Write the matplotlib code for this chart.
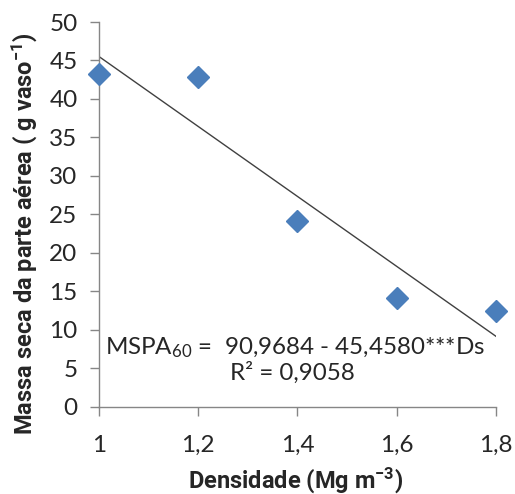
import matplotlib
matplotlib.use("Agg")
import matplotlib.pyplot as plt
import numpy as np

# Data
densidade = [1.0, 1.2, 1.4, 1.6, 1.8]
mspa = [43.2, 42.9, 24.2, 14.1, 12.4]
intercept = 90.9684
slope = -45.4580
x_ticks = [1.0, 1.2, 1.4, 1.6, 1.8]
x_tick_labels = ["1", "1,2", "1,4", "1,6", "1,8"]
y_ticks = [0, 5, 10, 15, 20, 25, 30, 35, 40, 45, 50]

plt.rcParams['font.family'] = ['Lato', 'DejaVu Sans']
plt.rcParams['mathtext.fontset'] = 'custom'
plt.rcParams['mathtext.rm'] = 'Lato'
plt.rcParams['mathtext.bf'] = 'Roboto:bold'
plt.rcParams['mathtext.default'] = 'rm'

fig = plt.figure(figsize=(5.15, 4.94), dpi=100)
ax = fig.add_axes([99/515, 1-406.7/494, (496-99)/515, (406.7-22)/494])

xl = np.array([min(densidade), max(densidade)])
ax.plot(xl, intercept + slope*xl, color='#404040', lw=1.0, zorder=2)
ax.plot(densidade, mspa, linestyle='none', marker='D', markersize=11,
        color='#4a7ebb', markeredgecolor='#4a7ebb', zorder=3, clip_on=False)

ax.set_xlim(1.0, 1.8)
ax.set_ylim(0, 50)
ax.set_xticks(x_ticks)
ax.set_xticklabels(x_tick_labels)
ax.set_yticks(y_ticks)

for s in ['top', 'right']:
    ax.spines[s].set_visible(False)
for s in ['left', 'bottom']:
    ax.spines[s].set_color('#868686')
    ax.spines[s].set_linewidth(1.0)
ax.tick_params(axis='both', direction='out', length=6.5, width=1.0,
               color='#868686', labelsize=17.5, labelcolor='#262626')
ax.tick_params(axis='y', pad=9)
ax.tick_params(axis='x', pad=14)

lab_font = dict(family=['Roboto', 'DejaVu Sans'], fontweight='bold', fontsize=17, color='#262626')
ax.set_xlabel('Densidade (Mg m$\\mathbf{^{-3}}$)', va='center', **lab_font)
ax.set_ylabel('Massa seca da parte aérea ( g vaso$\\mathbf{^{-1}}$)', va='center', **lab_font)
ax.xaxis.set_label_coords(0.495, -0.19)
ax.yaxis.set_label_coords(-0.189, 0.45)

ax.text(0.015, 0.153, 'MSPA$_{60}$ =  90,9684 - 45,4580***Ds', transform=ax.transAxes,
        fontsize=17.4, ha='left', va='center', color='#262626')
ax.text(0.487, 0.089, 'R² = 0,9058', transform=ax.transAxes,
        fontsize=17.4, ha='center', va='center', color='#262626')

fig.savefig('out.png', dpi=100)
